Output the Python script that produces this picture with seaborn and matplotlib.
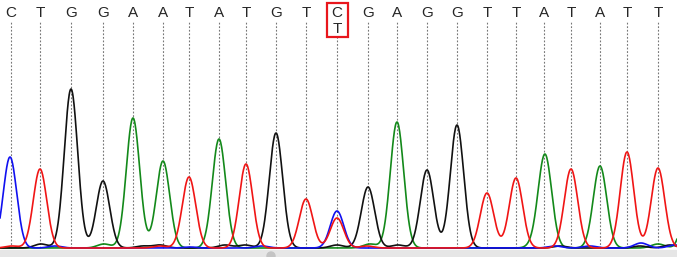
import numpy as np
import pandas as pd
import matplotlib
matplotlib.use("Agg")
import matplotlib.pyplot as plt
import seaborn as sns
from matplotlib.patches import Rectangle, Circle

# base calls along the read and where each call sits (scan position, px)
bases = ['C', 'T', 'G', 'G', 'A', 'A', 'T', 'A', 'T', 'G', 'T', 'C\nT',
         'G', 'A', 'G', 'G', 'T', 'T', 'A', 'T', 'A', 'T', 'T']
base_pos = [11, 40, 71, 103, 133, 163, 189, 219, 246, 276, 306, 337,
            368, 397, 427, 457, 487, 516, 544, 571, 600, 627, 658]
het_index = 11  # the double peak C/T

# peaks per dye channel: (position, signal height)
peaks_C = [(10, 91), (337, 37), (55, 2), (190, 1), (262, 2), (555, 2), (590, 2), (641, 5), (675, 3)]
peaks_T = [(40, 79), (189, 71), (246, 84), (306, 49), (337, 30), (487, 55), (516, 70),
           (571, 79), (627, 96), (658, 80), (12, 2), (160, 2), (367, 2)]
peaks_G = [(71, 159), (103, 67), (276, 115), (368, 61), (427, 78), (457, 123),
           (41, 4), (143, 2), (160, 3), (225, 3), (245, 3), (337, 3), (398, 3), (560, 2), (640, 2), (670, 3)]
peaks_A = [(133, 130), (163, 87), (219, 109), (397, 126), (545, 93), (600, 82), (692, 110),
           (104, 4), (370, 4), (535, 3), (658, 4)]

channel_colors = {'C': '#1010f0', 'T': '#f01515', 'G': '#111111', 'A': '#13891a'}

W, H = 677, 257
baseline = 9      # px above the bottom edge
sigma = 6.7

x = np.linspace(0, W, 1400)
frames = []
for name, pk in [('A', peaks_A), ('G', peaks_G), ('C', peaks_C), ('T', peaks_T)]:
    y = np.zeros_like(x)
    for pos, h in pk:
        y += h * np.exp(-(x - pos) ** 2 / (2 * sigma ** 2))
    frames.append(pd.DataFrame({'x': x, 'signal': y + baseline, 'dye': name}))
traces = pd.concat(frames, ignore_index=True)

sns.set_style("white")
plt.rcParams['font.family'] = ['Liberation Sans', 'DejaVu Sans']

fig = plt.figure(figsize=(6.77, 2.57), dpi=100)
ax = fig.add_axes([0, 0, 1, 1])

# grey strip at the bottom with the scroll knob
ax.add_patch(Rectangle((0, 0), W, 7, color='#e6e6e6', zorder=0))
ax.add_patch(Circle((271, 1), 4, color='#c4c4c4', zorder=0.5))

# dashed guides under each base call
for i, pos in enumerate(base_pos):
    top = H - (37 if i == het_index else 22)
    ax.plot([pos, pos], [baseline, top], color='#777777', lw=0.8,
            ls=(0, (1.6, 1.6)), zorder=1)

sns.lineplot(data=traces, x='x', y='signal', hue='dye', palette=channel_colors,
             estimator=None, sort=False, lw=1.2, legend=False, ax=ax, zorder=2)

for i, (b, pos) in enumerate(zip(bases, base_pos)):
    if i == het_index:
        ax.text(pos, H - 13, 'C', ha='center', va='center', fontsize=11)
        ax.text(pos, H - 29, 'T', ha='center', va='center', fontsize=11)
        ax.add_patch(Rectangle((pos - 10, H - 37), 21, 34, fill=False,
                               ec='#e8161c', lw=1.6, zorder=3))
    else:
        ax.text(pos, H - 13, b, ha='center', va='center', fontsize=11)

ax.set_xlim(0, W)
ax.set_ylim(0, H)
ax.axis('off')
fig.savefig('out.png', dpi=100)
